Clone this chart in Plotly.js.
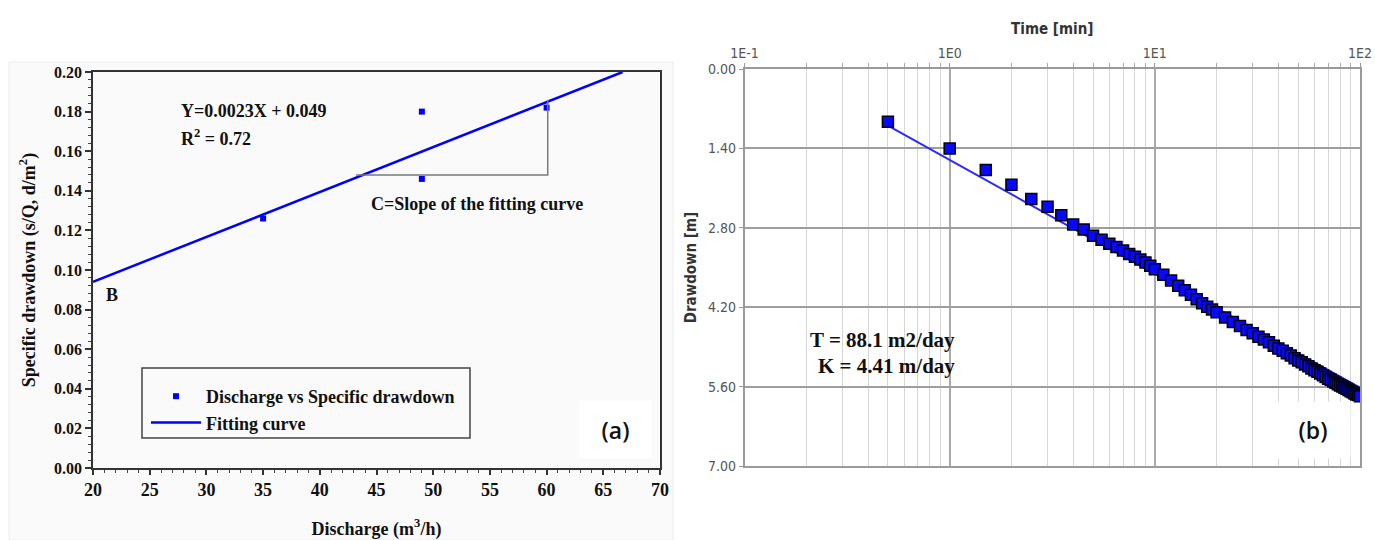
<!DOCTYPE html>
<html>
<head>
<meta charset="utf-8">
<script src="https://cdn.plot.ly/plotly-3.0.1.min.js"></script>
<style>html,body{margin:0;padding:0;background:#fff;}#chart{width:1375px;height:540px;}</style>
</head>
<body>
<div id="chart"></div>
<script>
// ---------- Panel (a): discharge vs specific drawdown ----------
const dischargeQ = [35, 49, 49, 60];
const specificDrawdown = [0.126, 0.180, 0.146, 0.182];
const fitQ = [20, 66.7];
const fitSpecific = [0.094, 0.200];
const slopeBracketQ = [43.2, 60.1, 60.1];
const slopeBracketY = [0.148, 0.148, 0.186];
const xTicksA = [20, 25, 30, 35, 40, 45, 50, 55, 60, 65, 70];
const yTicksA = [0, 0.02, 0.04, 0.06, 0.08, 0.10, 0.12, 0.14, 0.16, 0.18, 0.20];

// ---------- Panel (b): time-drawdown (Cooper-Jacob) ----------
const timeMin = [0.5, 1, 1.5, 2, 2.5, 3, 3.5, 4, 4.5, 5, 5.5, 6, 6.5, 7, 7.5, 8, 8.5, 9, 9.5, 10,
  11, 12, 13, 14, 15, 16, 17, 18, 19, 20,
  22, 24, 26, 28, 30, 32, 34, 36, 38, 40, 42, 44, 46, 48, 50,
  52, 54, 56, 58, 60, 62, 64, 66, 68, 70, 72, 74, 76, 78, 80,
  82, 84, 86, 88, 90, 92, 94, 96, 98, 100];
const drawdownM = [0.93, 1.40, 1.78, 2.04, 2.29, 2.43, 2.58, 2.74, 2.83, 2.94, 3.01, 3.08, 3.14, 3.20, 3.26, 3.31, 3.36, 3.41, 3.47, 3.53,
  3.63, 3.73, 3.82, 3.90, 3.98, 4.06, 4.13, 4.19, 4.24, 4.29,
  4.38, 4.46, 4.53, 4.60, 4.66, 4.72, 4.77, 4.82, 4.88, 4.93, 4.97, 5.01, 5.05, 5.10, 5.14,
  5.17, 5.21, 5.24, 5.28, 5.31, 5.34, 5.37, 5.40, 5.43, 5.46, 5.48, 5.51, 5.53, 5.56, 5.58,
  5.60, 5.62, 5.64, 5.66, 5.68, 5.70, 5.72, 5.74, 5.75, 5.77];
const fitTime = [0.5, 100];
const fitDrawdown = [1.0, 5.62];
const xTicksB = [0.1, 1, 10, 100];
const xTickTextB = ['1E-1', '1E0', '1E1', '1E2'];
const yTicksB = [0, 1.4, 2.8, 4.2, 5.6, 7.0];

const W = 1375, H = 540;
const px = x => x / W;
const py = y => 1 - y / H;
const SERIF = 'Liberation Serif, Times New Roman, serif';
const SANS = 'DejaVu Sans Condensed, DejaVu Sans, sans-serif';
const LABEL = 'Open Sans, Liberation Sans, sans-serif';

const traces = [
  {
    x: dischargeQ, y: specificDrawdown, type: 'scatter', mode: 'markers',
    name: 'Discharge vs Specific drawdown',
    marker: {symbol: 'square', size: 6, color: '#0000ff'},
    xaxis: 'x', yaxis: 'y', hoverinfo: 'x+y'
  },
  {
    x: fitQ, y: fitSpecific, type: 'scatter', mode: 'lines',
    name: 'Fitting curve',
    line: {color: '#0000ff', width: 2.5},
    xaxis: 'x', yaxis: 'y'
  },
  {
    x: slopeBracketQ, y: slopeBracketY, type: 'scatter', mode: 'lines',
    line: {color: '#7a7a7a', width: 1.5}, showlegend: false, hoverinfo: 'skip',
    xaxis: 'x', yaxis: 'y'
  },
  {
    x: fitTime, y: fitDrawdown, type: 'scatter', mode: 'lines',
    name: 'Straight-line fit', showlegend: false,
    line: {color: '#2b2bff', width: 2},
    xaxis: 'x2', yaxis: 'y2'
  },
  {
    x: timeMin, y: drawdownM, type: 'scatter', mode: 'markers',
    name: 'Observed drawdown', showlegend: false,
    marker: {symbol: 'square', size: 11, color: '#0808ff', line: {color: '#000014', width: 1.5}},
    xaxis: 'x2', yaxis: 'y2'
  }
];

const layout = {
  width: W, height: H,
  margin: {l: 0, r: 0, t: 0, b: 0},
  paper_bgcolor: '#ffffff',
  plot_bgcolor: 'rgba(0,0,0,0)',
  showlegend: true,
  legend: {
    x: px(146), y: py(378), xanchor: 'left', yanchor: 'top',
    bgcolor: 'rgba(0,0,0,0)', borderwidth: 0, itemwidth: 50,
    font: {family: SERIF, size: 18, color: '#111', weight: 'bold'},
    tracegroupgap: 0
  },
  xaxis: {
    domain: [px(93), px(660)], anchor: 'y', range: [20, 70],
    tickvals: xTicksA, ticktext: xTicksA.map(v => '<b>' + v + '</b>'),
    ticks: 'outside', ticklen: 5, tickwidth: 1.5, tickcolor: '#333',
    minor: {dtick: 1, ticks: 'outside', ticklen: 3, tickcolor: '#444', tickwidth: 1},
    showline: true, linecolor: '#333', linewidth: 1.5, mirror: true,
    showgrid: false, zeroline: false,
    tickfont: {family: SERIF, size: 18, color: '#111'},
    title: {text: '<b>Discharge (m<sup>3</sup>/h)</b>', font: {family: SERIF, size: 18, color: '#111'}, standoff: 24}
  },
  yaxis: {
    domain: [py(468), py(72)], anchor: 'x', range: [0, 0.2],
    tickvals: yTicksA, ticktext: yTicksA.map(v => '<b>' + v.toFixed(2) + '</b>'),
    ticks: 'outside', ticklen: 6, tickwidth: 1.5, tickcolor: '#333',
    minor: {dtick: 0.004, ticks: 'outside', ticklen: 3, tickcolor: '#444', tickwidth: 1},
    showline: true, linecolor: '#333', linewidth: 1.5, mirror: true,
    showgrid: false, zeroline: false,
    tickfont: {family: SERIF, size: 16, color: '#111'},
    title: {text: '<b>Specific drawdown (s/Q, d/m<sup>2</sup>)</b>', font: {family: SERIF, size: 18, color: '#111'}, standoff: 14}
  },
  xaxis2: {
    domain: [px(744.5), px(1360)], anchor: 'y2', type: 'log', range: [-1, 2],
    side: 'top',
    tickvals: xTicksB, ticktext: xTickTextB,
    ticks: 'outside', ticklen: 4, tickcolor: '#999',
    showgrid: true, gridcolor: '#aaaaaa', gridwidth: 1.5,
    minor: {dtick: 'D1', showgrid: true, gridcolor: '#d6d6d6', gridwidth: 1, ticks: 'outside', ticklen: 4, tickcolor: '#aaa'},
    showline: true, linecolor: '#9a9a9a', linewidth: 1.5, mirror: true,
    zeroline: false,
    tickfont: {family: SANS, size: 14, color: '#555'},
    title: {text: '<b>Time [min]</b>', font: {family: SANS, size: 15, color: '#333'}, standoff: 6}
  },
  yaxis2: {
    domain: [py(466), py(69)], anchor: 'x2', range: [7, 0],
    tickvals: yTicksB, ticktext: yTicksB.map(v => v.toFixed(2)),
    ticks: 'outside', ticklen: 4, tickcolor: '#999',
    showgrid: true, gridcolor: '#9e9e9e', gridwidth: 2,
    showline: true, linecolor: '#9a9a9a', linewidth: 1.5, mirror: true,
    zeroline: false,
    tickfont: {family: SANS, size: 14, color: '#555'},
    title: {text: '<b>Drawdown [m]</b>', font: {family: SANS, size: 15, color: '#333'}, standoff: 8}
  },
  shapes: [
    {type: 'rect', xref: 'paper', yref: 'paper', x0: px(9), x1: px(673), y0: 0, y1: py(62),
     fillcolor: '#fafafa', line: {color: '#ececec', width: 1}, layer: 'below'},
    {type: 'rect', xref: 'paper', yref: 'paper', x0: px(142), x1: px(470), y0: py(438), y1: py(368),
     fillcolor: 'rgba(0,0,0,0)', line: {color: '#444', width: 1.5}, layer: 'above'}
  ],
  annotations: [
    {xref: 'x', yref: 'y', x: 27.6, y: 0.1805, xanchor: 'left', yanchor: 'middle', showarrow: false,
     text: '<b>Y=0.0023X + 0.049</b>', font: {family: SERIF, size: 18, color: '#111'}},
    {xref: 'x', yref: 'y', x: 27.6, y: 0.1668, xanchor: 'left', yanchor: 'middle', showarrow: false,
     text: '<b>R<sup>2</sup> = 0.72</b>', font: {family: SERIF, size: 18, color: '#111'}},
    {xref: 'x', yref: 'y', x: 44.3, y: 0.1332, xanchor: 'left', yanchor: 'middle', showarrow: false,
     text: '<b>C=Slope of the fitting curve</b>', font: {family: SERIF, size: 18, color: '#111'}},
    {xref: 'x', yref: 'y', x: 21.7, y: 0.0872, xanchor: 'center', yanchor: 'middle', showarrow: false,
     text: '<b>B</b>', font: {family: SERIF, size: 18, color: '#111'}},
    {xref: 'paper', yref: 'paper', x: px(615.5), y: py(429.5), xanchor: 'center', yanchor: 'middle', showarrow: false,
     width: 69, height: 55, bgcolor: '#ffffff',
     text: '(a)', font: {family: LABEL, size: 23, color: '#111', weight: 600}},
    {xref: 'paper', yref: 'paper', x: px(1313), y: py(430), xanchor: 'center', yanchor: 'middle', showarrow: false,
     width: 72, height: 54, bgcolor: '#ffffff',
     text: '(b)', font: {family: LABEL, size: 23, color: '#111', weight: 600}},
    {xref: 'paper', yref: 'paper', x: px(957), y: py(340), xanchor: 'right', yanchor: 'middle', showarrow: false,
     text: '<b>T = 88.1 m2/day</b>', font: {family: SERIF, size: 21, color: '#111'}},
    {xref: 'paper', yref: 'paper', x: px(957), y: py(366), xanchor: 'right', yanchor: 'middle', showarrow: false,
     text: '<b>K = 4.41 m/day</b>', font: {family: SERIF, size: 21, color: '#111'}}
  ]
};

Plotly.newPlot('chart', traces, layout, {displayModeBar: false, responsive: false});
</script>
</body>
</html>
